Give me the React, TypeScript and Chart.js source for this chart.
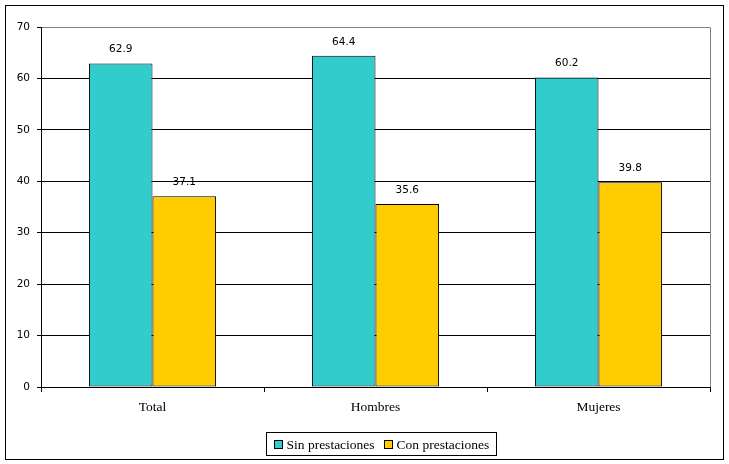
import React, { useEffect, useRef } from "react";
import { Chart, registerables } from "chart.js";

Chart.register(...registerables);

const categories = ["Total", "Hombres", "Mujeres"];
const sinPrestaciones = [62.9, 64.4, 60.2];
const conPrestaciones = [37.1, 35.6, 39.8];
const seriesLabels = ["Sin prestaciones", "Con prestaciones"];
const yTicks = [0, 10, 20, 30, 40, 50, 60, 70];

const TEAL = "#33CCCC";
const GOLD = "#FFCC00";
const SANS = "'DejaVu Sans', sans-serif";
const SERIF = "'Liberation Serif', serif";

const decorPlugin = {
  id: "decor",
  afterDatasetsDraw(chart: any) {
    const ctx = chart.ctx;
    ctx.save();
    ctx.font = `10.5px ${SANS}`;
    ctx.fillStyle = "#000";
    ctx.textAlign = "center";
    ctx.textBaseline = "middle";
    chart.data.datasets.forEach((ds: any, i: number) => {
      const meta = chart.getDatasetMeta(i);
      meta.data.forEach((el: any, j: number) => {
        ctx.fillText(Number(ds.data[j]).toFixed(1), el.x, el.y - 14);
      });
    });
    ctx.restore();
  },
  afterDraw(chart: any) {
    const ctx = chart.ctx;
    const a = chart.chartArea;
    ctx.save();
    ctx.strokeStyle = "#808080";
    ctx.lineWidth = 1;
    ctx.beginPath();
    ctx.moveTo(Math.round(a.right) + 0.5, Math.round(a.top) + 0.5);
    ctx.lineTo(Math.round(a.right) + 0.5, Math.round(a.bottom));
    ctx.stroke();
    ctx.strokeStyle = "#000";
    ctx.strokeRect(5.5, 5.5, 718, 454);
    ctx.font = `13.5px ${SERIF}`;
    ctx.textBaseline = "middle";
    ctx.textAlign = "left";
    const box = 8;
    const gapBoxText = 5;
    const gapItems = 9;
    const padX = 7;
    const widths = chart.data.datasets.map((ds: any) => ctx.measureText(ds.label).width);
    let total = padX * 2;
    widths.forEach((w: number, i: number) => {
      total += box + gapBoxText + w + (i < widths.length - 1 ? gapItems : 0);
    });
    const cx = 380.5;
    const left = Math.round(cx - total / 2) + 0.5;
    const top = 432.5;
    const h = 23;
    ctx.strokeRect(left, top, Math.round(total), h);
    let x = left + padX;
    const midY = top + h / 2;
    chart.data.datasets.forEach((ds: any, i: number) => {
      const bx = Math.round(x);
      const by = Math.round(midY - box / 2);
      ctx.fillStyle = ds.backgroundColor;
      ctx.fillRect(bx, by, box, box);
      ctx.strokeStyle = "#000";
      ctx.strokeRect(bx + 0.5, by + 0.5, box, box);
      ctx.fillStyle = "#000";
      ctx.fillText(ds.label, x + box + gapBoxText, midY + 1);
      x += box + gapBoxText + widths[i] + gapItems;
    });
    ctx.restore();
  },
};

export default function App() {
  const ref = useRef<HTMLCanvasElement | null>(null);
  useEffect(() => {
    document.body.style.margin = "0";
    if (!ref.current) return;
    const chart = new Chart(ref.current, {
      type: "bar",
      data: {
        labels: categories,
        datasets: [
          {
            label: seriesLabels[0],
            data: sinPrestaciones,
            backgroundColor: TEAL,
            borderColor: "#000",
            borderWidth: 1,
            borderSkipped: false,
            categoryPercentage: 0.57,
            barPercentage: 1,
          },
          {
            label: seriesLabels[1],
            data: conPrestaciones,
            backgroundColor: GOLD,
            borderColor: "#000",
            borderWidth: 1,
            borderSkipped: false,
            categoryPercentage: 0.57,
            barPercentage: 1,
          },
        ],
      },
      options: {
        responsive: false,
        animation: false,
        devicePixelRatio: 1,
        layout: { padding: { left: 0, right: 19, top: 27, bottom: 47 } },
        plugins: { legend: { display: false }, tooltip: { enabled: false } },
        scales: {
          x: {
            offset: true,
            grid: {
              offset: true,
              drawOnChartArea: false,
              drawTicks: true,
              tickLength: 5,
              color: "#000",
            },
            border: { display: true, color: "#000" },
            ticks: { color: "#000", font: { family: SERIF, size: 13.5 }, padding: 7 },
            afterFit(scale: any) {
              scale.height = 30;
            },
          },
          y: {
            min: 0,
            max: 70,
            afterBuildTicks(scale: any) {
              scale.ticks = yTicks.map((v) => ({ value: v }));
            },
            grid: {
              color: (c: any) => (c.tick && c.tick.value === 70 ? "#808080" : "#000"),
              tickColor: "#000",
              tickLength: 4,
            },
            border: { display: true, color: "#000" },
            ticks: { color: "#000", font: { family: SANS, size: 10.5 }, padding: 7 },
            afterFit(scale: any) {
              scale.width = 41;
            },
          },
        },
      },
      plugins: [decorPlugin],
    } as any);
    return () => chart.destroy();
  }, []);
  return <canvas ref={ref} width={729} height={464} style={{ display: "block" }} />;
}
